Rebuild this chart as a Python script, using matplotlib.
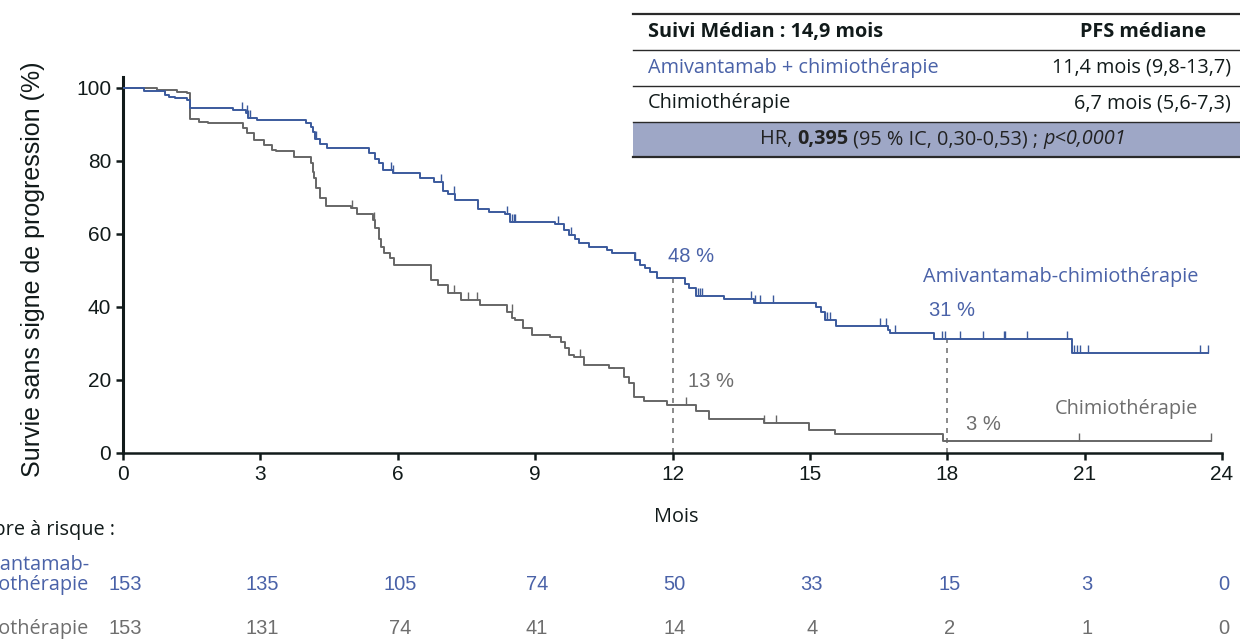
## import libraries ##
import matplotlib
matplotlib.use('Agg')
import matplotlib.pyplot as plt
import numpy as np
from matplotlib.patches import Rectangle
from matplotlib.lines import Line2D
from matplotlib.path import Path

## data ##
# Kaplan-Meier steps (month, % progression-free)
amiv_times = [0, 0.45, 0.92, 1.0, 1.14, 1.4, 1.47, 2.41, 2.68, 2.72, 2.93, 3.99, 4.1, 4.15, 4.2,
              4.3, 4.45, 5.37, 5.5, 5.58, 5.67, 5.89, 6.48, 6.79, 6.99, 7.1, 7.24, 7.76, 8.0,
              8.34, 8.45, 9.44, 9.62, 9.75, 9.88, 9.96, 10.17, 10.57, 10.68, 11.19, 11.3, 11.41,
              11.5, 11.67, 12.27, 12.35, 12.51, 13.13, 13.79, 15.14, 15.25, 15.32, 15.58, 16.71,
              16.75, 17.7, 20.73, 23.69]
amiv_surv = [100, 99.2, 98.2, 97.5, 97.2, 96.7, 94.6, 94.0, 93.1, 91.9, 91.1, 90.3, 89.4, 88.0, 86.1,
             84.7, 83.5, 82.1, 80.5, 79.4, 77.4, 76.8, 75.4, 74.3, 71.8, 71.0, 69.3, 66.8, 66.1,
             65.5, 63.4, 62.7, 61.0, 59.7, 58.6, 57.4, 56.5, 55.6, 54.7, 52.9, 51.5, 50.6,
             49.7, 47.9, 46.3, 45.2, 43.0, 42.1, 41.2, 40.1, 38.5, 36.4, 34.8, 33.7,
             33.0, 31.2, 27.3, 27.3]

chemo_times = [0, 0.74, 1.18, 1.4, 1.47, 1.65, 1.86, 2.63, 2.7, 2.85, 3.07, 3.26, 3.35, 3.73, 4.1,
               4.14, 4.17, 4.22, 4.3, 4.43, 4.98, 5.12, 5.45, 5.5, 5.58, 5.64, 5.7, 5.82, 5.91,
               6.73, 6.88, 7.1, 7.39, 7.79, 8.38, 8.5, 8.55, 8.74, 8.93, 9.33, 9.57, 9.65, 9.75,
               9.84, 10.06, 10.61, 10.94, 11.05, 11.16, 11.38, 11.89, 12.51, 12.8, 14.0, 14.99,
               15.54, 17.91, 23.76]
chemo_surv = [100, 99.5, 99.0, 98.5, 91.4, 90.8, 90.3, 89.0, 87.6, 85.8, 84.4, 83.0, 82.6, 81.0, 79.4,
              77.0, 75.3, 72.6, 69.8, 67.7, 67.1, 65.5, 63.8, 61.5, 58.5, 56.5, 54.7, 53.3, 51.5,
              47.4, 46.0, 43.7, 41.9, 40.5, 38.7, 36.9, 36.4, 34.2, 32.3, 31.9, 30.5, 28.7, 26.8,
              26.4, 24.1, 23.2, 20.9, 19.1, 15.4, 14.2, 13.2, 11.6, 9.2, 8.1, 6.3,
              5.2, 3.4, 3.4]

# censored observations (months)
amiv_censor = [2.6, 2.7, 2.74, 2.78, 4.21, 5.86, 5.9, 6.94, 7.23, 8.38, 8.5, 8.53, 8.57, 9.51, 9.78,
               11.19, 12.55, 12.6, 12.65, 13.71, 13.8, 13.92, 14.19, 15.32, 15.37,
               15.43, 16.53, 16.67, 16.86, 17.88, 17.95, 18.28, 18.78, 19.23, 19.27, 19.74,
               20.62, 20.77, 20.83, 20.9, 21.08, 23.51, 23.69]
chemo_censor = [5.01, 5.48, 7.23, 7.54, 7.72, 8.49, 9.98, 12.29, 14.0, 14.26, 20.88, 23.76]

months = [0, 3, 6, 9, 12, 15, 18, 21, 24]
amiv_risk = [153, 135, 105, 74, 50, 33, 15, 3, 0]
chemo_risk = [153, 131, 74, 41, 14, 4, 2, 1, 0]

blue = '#3b5a9d'
blue_txt = '#4a62a8'
grey = '#666666'
grey_txt = '#6e6e6e'
dark = '#111a1a'
geo = ['Open Sans', 'DejaVu Sans']
ari = ['Liberation Sans', 'DejaVu Sans']
gsize = 14.3

W, H = 1240, 639
fig = plt.figure(figsize=(W / 100, H / 100), dpi=100)


def fx(x):
    return x / W


def fy(y):
    return 1 - y / H


# axes: x 0 -> px 123, 24 -> px 1222 ; y 0 -> px 453, top -> px 77
ax = fig.add_axes([fx(123), fy(453), fx(1222 - 123), (453 - 77) / H])
ax.set_xlim(0, 24)
ax.set_ylim(0, 103)

ax.step(amiv_times, amiv_surv, where='post', color=blue, lw=1.4, zorder=3)
ax.step(chemo_times, chemo_surv, where='post', color=grey, lw=1.4, zorder=2)

# censor ticks pointing upwards
up_tick = Path([(0, 0), (0, 1)])


def surv_at(times, surv, t):
    i = np.searchsorted(times, t, side='right') - 1
    return surv[i]


ax.plot(amiv_censor, [surv_at(amiv_times, amiv_surv, t) for t in amiv_censor], ls='none',
        marker=up_tick, ms=11, mew=1.0, color=blue, zorder=3)
ax.plot(chemo_censor, [surv_at(chemo_times, chemo_surv, t) for t in chemo_censor], ls='none',
        marker=up_tick, ms=11, mew=1.0, color=grey, zorder=2)

# landmark dashed lines
ax.plot([12, 12], [0, 47.9], ls=(0, (3, 3)), color='#777777', lw=1.2, zorder=1)
ax.plot([18, 18], [0, 31.2], ls=(0, (3, 3)), color='#777777', lw=1.2, zorder=1)

ax.text(12.4, 53.7, '48 %', color=blue_txt, fontsize=14.5, ha='center', va='center', family=ari)
ax.text(12.84, 19.5, '13 %', color=grey_txt, fontsize=14.5, ha='center', va='center', family=ari)
ax.text(18.1, 39.0, '31 %', color=blue_txt, fontsize=14.5, ha='center', va='center', family=ari)
ax.text(18.8, 7.9, '3 %', color=grey_txt, fontsize=14.5, ha='center', va='center', family=ari)
ax.text(23.48, 48.2, 'Amivantamab-chimiothérapie', color=blue_txt, fontsize=gsize,
        ha='right', va='center', family=geo)
ax.text(23.48, 12.0, 'Chimiothérapie', color=grey_txt, fontsize=gsize,
        ha='right', va='center', family=geo)

for s in ['top', 'right']:
    ax.spines[s].set_visible(False)
for s in ['left', 'bottom']:
    ax.spines[s].set_color(dark)
ax.spines['left'].set_linewidth(2.2)
ax.spines['bottom'].set_linewidth(1.8)
ax.set_xticks(months)
ax.set_yticks([0, 20, 40, 60, 80, 100])
ax.tick_params(axis='both', colors=dark, labelsize=15, direction='out', width=1.8, length=5)
for lab in ax.get_xticklabels() + ax.get_yticklabels():
    lab.set_family(ari)
ax.set_ylabel('Survie sans signe de progression (%)', fontsize=18, family=ari, color=dark)
ax.yaxis.set_label_coords(fx(45 - 123) / fx(1222 - 123), 0.49)

fig.text(fx(676), fy(517), 'Mois', fontsize=gsize, family=geo, color=dark, ha='center', va='center')

## number at risk ##
fig.text(fx(115), fy(530), 'Nombre à risque :', fontsize=gsize, family=geo, color=dark,
         ha='right', va='center')
fig.text(fx(89), fy(565), 'Amivantamab-', fontsize=gsize, family=geo, color=blue_txt,
         ha='right', va='center')
fig.text(fx(89), fy(585), 'chimiothérapie', fontsize=gsize, family=geo, color=blue_txt,
         ha='right', va='center')
fig.text(fx(89), fy(629), 'Chimiothérapie', fontsize=gsize, family=geo, color=grey_txt,
         ha='right', va='center')
for m, a, c in zip(months, amiv_risk, chemo_risk):
    xp = 125 + m * (1222 - 123) / 24
    fig.text(fx(xp), fy(585), str(a), fontsize=14.5, family=ari, color=blue_txt,
             ha='center', va='center')
    fig.text(fx(xp), fy(629), str(c), fontsize=14.5, family=ari, color=grey_txt,
             ha='center', va='center')

## summary table ##
tx0, tx1 = 633, 1240
fig.patches.append(Rectangle((fx(tx0), fy(157)), fx(tx1 - tx0), (157 - 122) / H,
                             transform=fig.transFigure, facecolor='#9ea7c6', edgecolor='none'))
for yy, lw in [(14, 1.6), (50, 1.0), (86, 1.0), (122, 1.0), (157, 1.6)]:
    fig.lines.append(Line2D([fx(tx0), fx(tx1)], [fy(yy), fy(yy)], transform=fig.transFigure,
                            color='#2a2a2a', lw=lw))
fig.text(fx(648), fy(32), 'Suivi Médian : 14,9 mois', fontsize=gsize, weight='bold', family=geo,
         color=dark, va='center')
fig.text(fx(1206), fy(32), 'PFS médiane', fontsize=gsize, weight='bold', family=geo,
         color=dark, va='center', ha='right')
fig.text(fx(648), fy(68), 'Amivantamab + chimiothérapie', fontsize=gsize, family=geo,
         color=blue_txt, va='center')
fig.text(fx(1231), fy(68), '11,4 mois (9,8-13,7)', fontsize=gsize, family=geo,
         color=dark, va='center', ha='right')
fig.text(fx(648), fy(103), 'Chimiothérapie', fontsize=gsize, family=geo,
         color=dark, va='center')
fig.text(fx(1231), fy(103), '6,7 mois (5,6-7,3)', fontsize=gsize, family=geo,
         color=dark, va='center', ha='right')

# HR line: pieces laid out left to right, centred on px 943
hr_parts = [('HR, ', 'normal', 'normal'), ('0,395', 'bold', 'normal'),
            (' (95 % IC, 0,30-0,53) ; ', 'normal', 'normal'), ('p<0,0001', 'normal', 'italic')]
renderer = fig.canvas.get_renderer()
objs = []
for s, w, st in hr_parts:
    t = fig.text(0, fy(139), s, fontsize=gsize, family=geo, weight=w, style=st,
                 color='#222222', va='center', ha='left')
    objs.append(t)
widths = [t.get_window_extent(renderer).width for t in objs]
x = 943 - sum(widths) / 2
for t, w in zip(objs, widths):
    t.set_x(fx(x))
    x += w

## save ##
fig.savefig('out.png', dpi=100)
